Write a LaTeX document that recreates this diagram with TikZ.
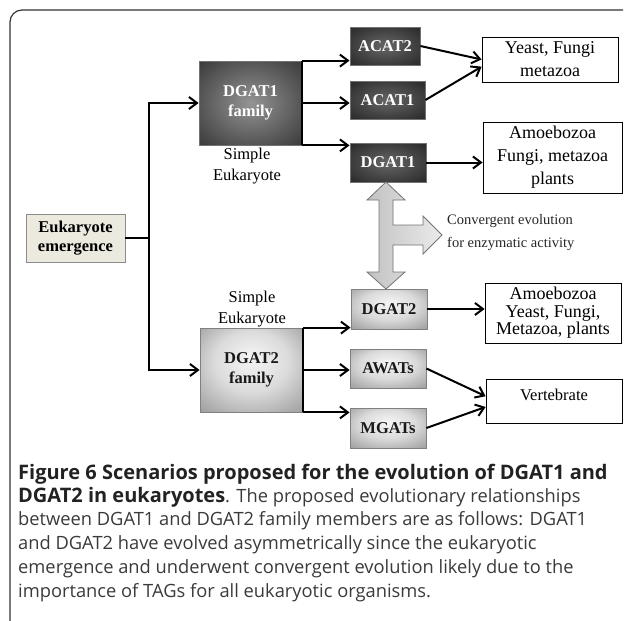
\documentclass[tikz,border=0pt]{standalone}
\usepackage{fontspec}
\setmainfont{Liberation Serif}
\newfontfamily\capfont{Open Sans}
\usetikzlibrary{arrows.meta}

\definecolor{beige}{HTML}{ECEADF}
\definecolor{capgray}{HTML}{3A3A3A}
\definecolor{captitle}{HTML}{222222}

\pgfdeclareradialshading{darkglow}{\pgfpoint{0bp}{0bp}}{color(0bp)=(black!42); color(50bp)=(black!92)}
\pgfdeclareradialshading{genglow}{\pgfpoint{0bp}{0bp}}{color(0bp)=(black!60); color(50bp)=(black!94)}
\pgfdeclareradialshading{lightglow}{\pgfpoint{0bp}{8bp}}{color(0bp)=(black!4); color(18bp)=(black!14); color(50bp)=(black!55)}

\tikzset{
  lab/.style={font=\fontsize{16.5}{19.5}\selectfont\bfseries, align=center, inner sep=0pt},
  darkfam/.style={lab, draw=black!55, line width=0.8pt, shading=darkglow, text=white},
  darkgene/.style={lab, draw=black!55, line width=0.8pt, shading=genglow, text=white},
  lightgene/.style={lab, draw=black!50, line width=0.8pt, shading=lightglow, text=black!90},
  taxon/.style={draw, line width=0.8pt, align=center, inner sep=0pt, font=\fontsize{18}{23}\selectfont},
  note/.style={align=center, inner sep=0pt, font=\fontsize{16.5}{21}\selectfont},
  capline/.style={anchor=base west, inner sep=0pt, text=capgray, font=\capfont\fontsize{18.3}{24}\selectfont},
  arr/.style={line width=2pt, -{Straight Barb[length=8pt,width=12pt]}},
  link/.style={line width=2pt},
}

\begin{document}
\begin{tikzpicture}[x=1pt,y=-1pt]
\useasboundingbox (0,0) rectangle (625,621);
% frame round the figure
\draw[line width=1.2pt, black!80, rounded corners=12pt] (10,621) -- (10,10) -- (623,10);

% root and the two families
\node[lab, draw=black!45, line width=0.8pt, fill=beige, text=black, minimum width=99, minimum height=48] (emerg) at (75.5,238) {Eukaryote\\emergence};
\node[darkfam, minimum width=103, minimum height=84] (fam1) at (250.5,103) {DGAT1\\family};
\node[note] (simple1) at (247,166) {Simple\\Eukaryote};
\node[note] (simple2) at (252,309) {Simple\\Eukaryote};
\node[lightgene, minimum width=103, minimum height=84] (fam2) at (251.5,370) {DGAT2\\family};

% enzymes
\node[darkgene, minimum width=70, minimum height=38] (acat2) at (385,46) {ACAT2};
\node[darkgene, minimum width=75, minimum height=38] (acat1) at (387.5,100) {ACAT1};
\node[darkgene, minimum width=76, minimum height=39] (dgat1) at (388,162.5) {DGAT1};
\node[lightgene, minimum width=76, minimum height=40] (dgat2) at (389,309) {DGAT2};
\node[lightgene, minimum width=76, minimum height=39] (awats) at (388,368.5) {AWATs};
\node[lightgene, minimum width=76, minimum height=40] (mgats) at (388,428) {MGATs};

% organisms
\node[taxon, minimum width=136, minimum height=45] (yeast) at (550,59.5) {Yeast, Fungi\\metazoa};
\node[taxon, minimum width=139, minimum height=71] (amoeb1) at (552.5,157.5) {Amoebozoa\\Fungi, metazoa\\plants};
\node[taxon, font=\fontsize{18}{17.5}\selectfont, minimum width=136, minimum height=60] (amoeb2) at (553,313) {Amoebozoa\\Yeast, Fungi,\\Metazoa, plants};
\node[taxon, font=\fontsize{16.5}{20}\selectfont, text depth=12pt, minimum width=136, minimum height=44] (vert) at (554,401) {Vertebrate};

% connectors
\coordinate (split) at (149,238);
\draw[arr] (emerg.east) -- (split) |- (fam1.west);
\draw[arr] (split) |- (fam2.west);

\draw[link] (fam1.north east) -- (fam1.south east);
\draw[arr] (fam1.north east) -- (fam1.north east -| acat2.west);
\draw[arr] (fam1.east) -- (fam1.east -| acat1.west);
\draw[arr] (fam1.south east) -- (fam1.south east -| dgat1.west);

\draw[link] (fam2.north east) -- (fam2.south east);
\draw[arr] (fam2.north east) -- (fam2.north east -| dgat2.west);
\draw[arr] (fam2.east) -- (fam2.east -| awats.west);
\draw[arr] (fam2.south east) -- (fam2.south east -| mgats.west);

\draw[arr] (acat2.east) -- (yeast.west);
\draw[arr] (acat1.east) -- (yeast.186);
\draw[arr] (dgat1.east) -- (dgat1.east -| amoeb1.west);
\draw[arr] (dgat2.east) -- (dgat2.east -| amoeb2.west);
\draw[arr] (awats.east) -- (vert.176);
\draw[arr] (mgats.east) -- (vert.185);

% convergent evolution arrow
\draw[draw=black!55, line width=0.8pt, left color=black!24, right color=black!8]
  (386,182) -- (405,200) -- (393,200) -- (393,225) -- (423,225) -- (423,216)
  -- (442,235) -- (423,254) -- (423,245) -- (393,245) -- (393,272) -- (405,272)
  -- (386,289) -- (367,272) -- (379,272) -- (379,200) -- (367,200) -- cycle;
\node[anchor=west, align=left, inner sep=0pt, font=\fontsize{14.5}{23}\selectfont, text=black!85] (conv) at (447,233) {Convergent evolution\\for enzymatic activity};

% caption
\node[capline] (cap1) at (18,479) {\color{captitle}\bfseries\fontsize{20}{24}\selectfont Figure 6 Scenarios proposed for the evolution of DGAT1 and};
\node[capline] (cap2) at (18,502) {{\color{captitle}\bfseries\fontsize{20}{24}\selectfont DGAT2 in eukaryotes}. The proposed evolutionary relationships};
\node[capline] (cap3) at (18,525) {between DGAT1 and DGAT2 family members are as follows: DGAT1};
\node[capline] (cap4) at (18,549) {and DGAT2 have evolved asymmetrically since the eukaryotic};
\node[capline] (cap5) at (18,573) {emergence and underwent convergent evolution likely due to the};
\node[capline] (cap6) at (18,597) {importance of TAGs for all eukaryotic organisms.};
\end{tikzpicture}
\end{document}
